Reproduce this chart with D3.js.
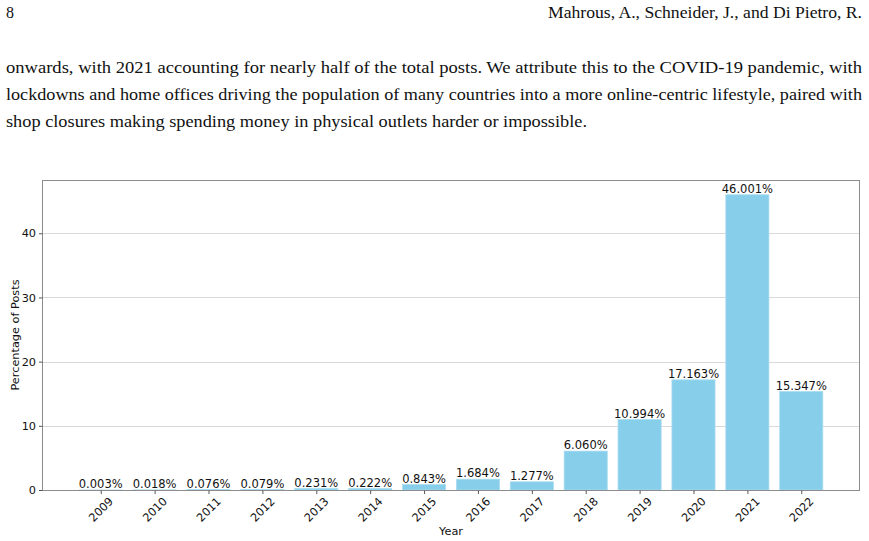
<!DOCTYPE html>
<html>
<head>
<meta charset="utf-8">
<script src="https://cdn.jsdelivr.net/npm/d3@7"></script>
<style>
  html, body { margin: 0; padding: 0; background: #fff; }
  svg { display: block; }
</style>
</head>
<body>
<svg id="page" width="869" height="541"></svg>
<script>
// ---- data ----
const years = ["2009","2010","2011","2012","2013","2014","2015","2016","2017","2018","2019","2020","2021","2022"];
const percentages = [0.003, 0.018, 0.076, 0.079, 0.231, 0.222, 0.843, 1.684, 1.277, 6.060, 10.994, 17.163, 46.001, 15.347];
const yTicks = [0, 10, 20, 30, 40];
const pageNumber = "8";
const runningHead = "Mahrous, A., Schneider, J., and Di Pietro, R.";
const bodyLines = [
  "onwards, with 2021 accounting for nearly half of the total posts. We attribute this to the COVID-19 pandemic, with",
  "lockdowns and home offices driving the population of many countries into a more online-centric lifestyle, paired with",
  "shop closures making spending money in physical outlets harder or impossible."
];
const xLabel = "Year";
const yLabel = "Percentage of Posts";

// ---- page text ----
const svg = d3.select("#page");
svg.append("rect").attr("width", 869).attr("height", 541).attr("fill", "#fff");
const serif = "'Liberation Serif', 'DejaVu Serif', serif";

svg.append("text").attr("x", 6).attr("y", 18)
  .attr("font-family", serif).attr("font-size", 16).attr("fill", "#111")
  .text(pageNumber);
svg.append("text").attr("x", 862).attr("y", 18).attr("text-anchor", "end")
  .attr("font-family", serif).attr("font-size", 16).attr("fill", "#111")
  .attr("textLength", 314).attr("lengthAdjust", "spacingAndGlyphs")
  .text(runningHead);

const lineWidths = [856, 856, 581];
const lineBase = [73, 100, 127];
bodyLines.forEach((t, i) => {
  svg.append("text").attr("x", 6).attr("y", lineBase[i])
    .attr("font-family", serif).attr("font-size", 16).attr("fill", "#111")
    .attr("textLength", lineWidths[i]).attr("lengthAdjust", "spacingAndGlyphs")
    .text(t);
});

// ---- chart ----
const L = 42, R = 860, T = 180, B = 490;
const sans = "'DejaVu Sans', sans-serif";
const fsTick = 11.3, fsVal = 11.5;
const n = years.length;
const barW = 0.8;
const xmin = -barW / 2, xmax = n - 1 + barW / 2;
const marg = 0.05 * (xmax - xmin);
const x = d3.scaleLinear().domain([xmin - marg, xmax + marg]).range([L, R]);
const yMax = d3.max(percentages) * 1.05;
const y = d3.scaleLinear().domain([0, yMax]).range([B, T]);

const g = svg.append("g");

// grid
g.selectAll("line.grid").data(yTicks.filter(d => d > 0)).join("line")
  .attr("class", "grid")
  .attr("x1", L).attr("x2", R)
  .attr("y1", d => Math.round(y(d)) + 0.5).attr("y2", d => Math.round(y(d)) + 0.5)
  .attr("stroke", "#d9d9d9").attr("stroke-width", 1);

// bars
g.selectAll("rect.bar").data(percentages).join("rect")
  .attr("class", "bar")
  .attr("x", (d, i) => x(i - barW / 2))
  .attr("width", (d, i) => x(i + barW / 2) - x(i - barW / 2))
  .attr("y", d => y(d))
  .attr("height", d => B - y(d))
  .attr("fill", "#87CEEB")
  .attr("stroke", "#a9dcf1").attr("stroke-width", 0.8);

// value labels
g.selectAll("text.val").data(percentages).join("text")
  .attr("class", "val")
  .attr("x", (d, i) => x(i))
  .attr("y", d => y(d) - 1.8)
  .attr("text-anchor", "middle")
  .attr("font-family", sans).attr("font-size", fsVal).attr("fill", "#111")
  .text(d => d.toFixed(3) + "%");

// frame
g.append("rect").attr("x", L + 0.5).attr("y", T + 0.5)
  .attr("width", R - L - 1).attr("height", B - T)
  .attr("fill", "none").attr("stroke", "#8c8c8c").attr("stroke-width", 1);

// y axis
const yAxis = d3.axisLeft(y).tickValues(yTicks).tickSize(3.5).tickPadding(3);
const ya = svg.append("g").attr("transform", `translate(${L + 0.5},0)`).call(yAxis);
ya.attr("font-size", null).attr("font-family", null);
ya.select(".domain").remove();
ya.selectAll(".tick line").attr("stroke", "#555");
ya.selectAll(".tick text").attr("font-family", sans).attr("font-size", fsTick).attr("fill", "#111");

// x axis
const xAxis = d3.axisBottom(x).tickValues(d3.range(n)).tickFormat(i => years[i]).tickSize(3.5).tickPadding(0);
const xa = svg.append("g").attr("transform", `translate(0,${B + 0.5})`).call(xAxis);
xa.attr("font-size", null).attr("font-family", null);
xa.select(".domain").remove();
xa.selectAll(".tick line").attr("stroke", "#555");
xa.selectAll(".tick text")
  .attr("font-family", sans).attr("font-size", fsTick).attr("fill", "#111")
  .attr("y", 0).attr("dy", null)
  .attr("text-anchor", "middle")
  .attr("dominant-baseline", "central")
  .attr("transform", "translate(0,19.3) rotate(-45)");

// axis labels
svg.append("text").attr("x", (L + R) / 2).attr("y", 534.5)
  .attr("text-anchor", "middle")
  .attr("font-family", sans).attr("font-size", fsTick).attr("fill", "#111")
  .text(xLabel);
svg.append("text")
  .attr("transform", `translate(19,${(T + B) / 2}) rotate(-90)`)
  .attr("text-anchor", "middle")
  .attr("font-family", sans).attr("font-size", fsTick).attr("fill", "#111")
  .text(yLabel);
</script>
</body>
</html>
